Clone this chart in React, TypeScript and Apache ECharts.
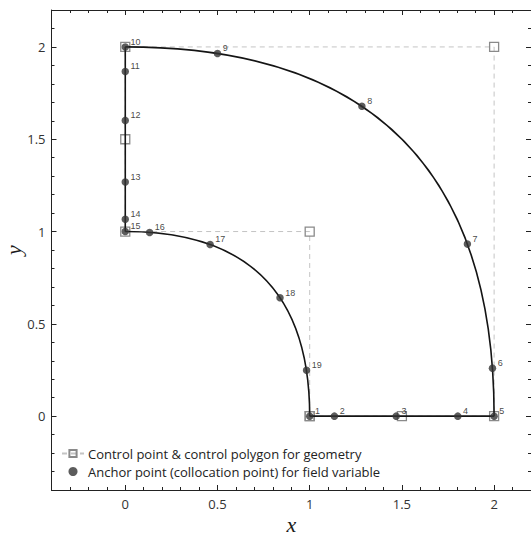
import React, { useEffect, useRef } from "react";
import * as echarts from "echarts";

// Control points (geometry) – quadratic segments share end points
const ctrlX = [1, 1.5, 2, 2, 0, 0, 0, 1, 1];
const ctrlY = [0, 0, 0, 2, 2, 1.5, 1, 1, 0];

// Anchor (collocation) points
const anchorLabels = ["1", "2", "3", "4", "5", "6", "7", "8", "9", "10", "11", "12", "13", "14", "15", "16", "17", "18", "19"];
const anchorX = [1, 1.134, 1.469, 1.803, 2, 1.991, 1.855, 1.283, 0.5, 0, 0, 0, 0, 0, 0, 0.132, 0.46, 0.839, 0.983];
const anchorY = [0, 0, 0, 0, 0, 0.26, 0.932, 1.679, 1.964, 2, 1.867, 1.602, 1.268, 1.067, 1, 0.995, 0.93, 0.641, 0.249];

// Axis ticks
const majorTicks = [0, 0.5, 1, 1.5, 2];
const axisMin = -0.4;
const axisMax = 2.2;
const minorStep = 0.1;

const legendCtrl = "Control point & control polygon for geometry";
const legendAnchor = "Anchor point (collocation point) for field variable";

const AXIS_COLOR = "#222";
const LABEL_FONT = "'Open Sans', 'Noto Sans', sans-serif";

function axisDef(position: string, kind: "main" | "major" | "minor", extra: any = {}) {
  const base: any = {
    type: "value",
    position,
    min: axisMin,
    max: axisMax,
    splitLine: { show: false },
    axisLine: { show: kind !== "major", onZero: false, lineStyle: { color: AXIS_COLOR, width: 1 } },
    axisLabel: { show: false },
  };
  if (kind === "major") {
    base.interval = 0.5;
    base.axisTick = { show: true, inside: true, length: 5, customValues: majorTicks, lineStyle: { color: AXIS_COLOR, width: 1 } };
  } else {
    base.interval = minorStep;
    base.axisTick = { show: true, inside: true, length: 3, lineStyle: { color: AXIS_COLOR, width: 1 } };
  }
  return { ...base, ...extra };
}

export default function App() {
  const ref = useRef<HTMLDivElement>(null);

  useEffect(() => {
    if (!ref.current) return;
    const chart = echarts.init(ref.current, null, { renderer: "svg" });

    const polygonData = ctrlX.map((x, i) => [x, ctrlY[i]]);
    const segments: number[][] = [];
    for (let i = 0; i + 2 < ctrlX.length; i += 2) {
      segments.push([ctrlX[i], ctrlY[i], ctrlX[i + 1], ctrlY[i + 1], ctrlX[i + 2], ctrlY[i + 2]]);
    }
    const anchorData = anchorX.map((x, i) => ({ value: [x, anchorY[i]], name: anchorLabels[i] }));

    const labelStyle = { fontFamily: LABEL_FONT, fontSize: 13, color: "#333" };
    const nameStyle = { fontFamily: "'Liberation Serif', serif", fontStyle: "italic", fontSize: 22, color: "#1a1a1a" };

    chart.setOption({
      animation: false,
      backgroundColor: "#fff",
      grid: { left: 51.5, right: 0, top: 10, bottom: 46, containLabel: false, outerBoundsMode: "none" },
      legend: {
        orient: "vertical",
        left: 61,
        top: 447,
        padding: 0,
        itemGap: 5,
        itemWidth: 22,
        itemHeight: 9,
        textStyle: { fontFamily: LABEL_FONT, fontSize: 13, color: "#222", padding: [0, 0, 0, -1] },
        data: [
          { name: legendCtrl },
          { name: legendAnchor, icon: "circle", itemStyle: { color: "#333" } },
        ],
      },
      xAxis: [
        axisDef("bottom", "minor", {
          name: "x",
          nameLocation: "middle",
          nameGap: 23,
          nameMoveOverlap: false,
          nameTextStyle: nameStyle,
          axisLabel: { show: true, customValues: majorTicks, margin: 7, formatter: (v: number) => String(v), ...labelStyle },
        }),
        axisDef("bottom", "major"),
        axisDef("top", "minor"),
        axisDef("top", "major"),
      ],
      yAxis: [
        axisDef("left", "minor", {
          name: "y",
          nameLocation: "middle",
          nameGap: 27,
          nameMoveOverlap: false,
          nameTextStyle: nameStyle,
          axisLabel: { show: true, customValues: majorTicks, margin: 6, formatter: (v: number) => String(v), ...labelStyle },
        }),
        axisDef("left", "major"),
        axisDef("right", "minor"),
        axisDef("right", "major"),
      ],
      series: [
        {
          name: legendCtrl,
          type: "line",
          xAxisIndex: 0,
          yAxisIndex: 0,
          data: polygonData,
          z: 2,
          symbol: "rect",
          symbolSize: 9,
          showAllSymbol: true,
          lineStyle: { color: "#c4c4c4", width: 1, type: [5, 4] },
          itemStyle: { color: "rgba(255,255,255,0)", borderColor: "#8a8a8a", borderWidth: 1.3 },
        },
        {
          name: "geometry",
          type: "custom",
          xAxisIndex: 0,
          yAxisIndex: 0,
          z: 3,
          data: segments,
          encode: { x: [0, 2, 4], y: [1, 3, 5] },
          renderItem: (params: any, api: any) => {
            const p0 = api.coord([api.value(0), api.value(1)]);
            const c = api.coord([api.value(2), api.value(3)]);
            const p1 = api.coord([api.value(4), api.value(5)]);
            return {
              type: "bezierCurve",
              shape: { x1: p0[0], y1: p0[1], cpx1: c[0], cpy1: c[1], x2: p1[0], y2: p1[1] },
              style: { stroke: "#141414", lineWidth: 1.6, fill: "none" },
            };
          },
        },
        {
          name: legendAnchor,
          type: "scatter",
          xAxisIndex: 0,
          yAxisIndex: 0,
          z: 4,
          data: anchorData,
          symbol: "circle",
          symbolSize: 7.5,
          itemStyle: { color: "#333" },
          label: {
            show: true,
            position: [9, -6],
            formatter: (p: any) => p.name,
            fontFamily: "'Liberation Sans', Arial, sans-serif",
            fontSize: 9,
            color: "#111",
            textBorderWidth: 0,
          },
        },
      ],
    });

    return () => chart.dispose();
  }, []);

  return <div ref={ref} style={{ width: 531, height: 536, position: "absolute", left: 0, top: 0 }} />;
}
